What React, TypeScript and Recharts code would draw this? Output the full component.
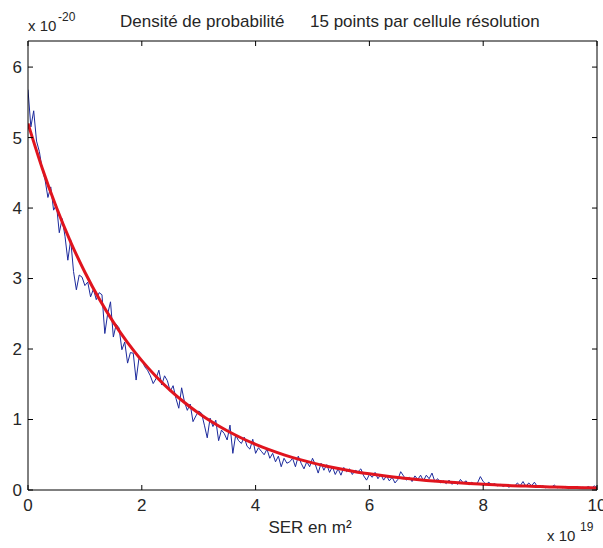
import { LineChart, Line, XAxis, YAxis } from "recharts";

// échantillonnage de la densité mesurée (pas de 0.05 en x10^19)
const step = 0.05;
const measured = [
  5.68, 5.15, 5.38, 4.95, 4.8, 4.55, 4.4, 4.15, 4.3, 3.97, 4.05, 3.65, 3.85, 3.6, 3.26, 3.55, 3.1, 2.84, 3.05, 3.02,
  2.9, 2.95, 2.74, 2.85, 2.7, 2.8, 2.77, 2.22, 2.5, 2.67, 2.17, 2.35, 2.3, 1.99, 2.1, 1.8, 1.95, 1.94, 1.56, 1.87,
  1.85, 1.75, 1.7, 1.62, 1.51, 1.58, 1.7, 1.49, 1.62, 1.55, 1.4, 1.48, 1.3, 1.16, 1.45, 1.25, 1.13, 1.22, 0.97, 1.05,
  1.12, 1.09, 0.92, 0.74, 1.02, 0.9, 0.99, 0.7, 0.85, 0.8, 0.71, 0.92, 0.52, 0.78, 0.7, 0.66, 0.75, 0.62, 0.58, 0.72,
  0.52, 0.6, 0.55, 0.5, 0.58, 0.45, 0.52, 0.4, 0.48, 0.33, 0.45, 0.38, 0.4, 0.45, 0.33, 0.48, 0.38, 0.3, 0.4, 0.33,
  0.45, 0.36, 0.24, 0.38, 0.28, 0.36, 0.25, 0.33, 0.22, 0.3, 0.21, 0.32, 0.26, 0.3, 0.22, 0.28, 0.26, 0.3, 0.2, 0.14,
  0.22, 0.18, 0.25, 0.16, 0.22, 0.14, 0.2, 0.13, 0.18, 0.1, 0.15, 0.26, 0.2, 0.14, 0.18, 0.12, 0.2, 0.15, 0.21, 0.13,
  0.21, 0.16, 0.24, 0.12, 0.16, 0.1, 0.13, 0.09, 0.14, 0.08, 0.12, 0.08, 0.15, 0.1, 0.13, 0.07, 0.11, 0.08, 0.1, 0.19,
  0.12, 0.08, 0.11, 0.07, 0.09, 0.06, 0.08, 0.05, 0.07, 0.04, 0.06, 0.05, 0.1, 0.06, 0.12, 0.05, 0.1, 0.06, 0.11, 0.05,
  0.04, 0.06, 0.03, 0.05, 0.04, 0.07, 0.03, 0.05, 0.03, 0.05, 0.02, 0.04, 0.03, 0.05, 0.02, 0.04, 0.03, 0.05, 0.02, 0.06,
  0.03,
];

// loi exponentielle ajustée
const fitX = [
  0, 0.25, 0.5, 0.75, 1, 1.25, 1.5, 1.75, 2, 2.25, 2.5, 2.75, 3, 3.25, 3.5, 3.75, 4, 4.25, 4.5, 4.75, 5,
  5.25, 5.5, 5.75, 6, 6.25, 6.5, 6.75, 7, 7.25, 7.5, 7.75, 8, 8.25, 8.5, 8.75, 9, 9.25, 9.5, 9.75, 10,
];
const fitY = [
  5.2, 4.565, 4.008, 3.518, 3.089, 2.712, 2.381, 2.09, 1.835, 1.611, 1.414, 1.242, 1.09, 0.957, 0.84, 0.738,
  0.648, 0.569, 0.499, 0.438, 0.385, 0.338, 0.297, 0.26, 0.229, 0.201, 0.176, 0.155, 0.136, 0.119, 0.105,
  0.092, 0.081, 0.071, 0.062, 0.055, 0.048, 0.042, 0.037, 0.033, 0.029,
];

const xTicks = [0, 2, 4, 6, 8, 10];
const yTicks = [0, 1, 2, 3, 4, 5, 6];

const measuredData = measured.map((v, i) => ({ x: +(i * step).toFixed(2), y: v }));
const fitData = fitX.map((x, i) => ({ x, y: fitY[i] }));

const FONT = "'Liberation Sans', Arial, sans-serif";
const TXT = "#262626";

const BottomTick = ({ x, y, payload }: any) => (
  <g>
    <line x1={x} x2={x} y1={y} y2={y - 5} stroke="#000" />
    <text x={x} y={y + 21} textAnchor="middle" fontSize={17} fontFamily={FONT} fill={TXT}>
      {payload.value}
    </text>
  </g>
);

const TopTick = ({ x, y }: any) => <line x1={x} x2={x} y1={y} y2={y + 5} stroke="#000" />;

const LeftTick = ({ x, y, payload }: any) => (
  <g>
    <line x1={x} x2={x + 5} y1={y} y2={y} stroke="#000" />
    <text x={x - 6} y={y} dy="0.35em" textAnchor="end" fontSize={17} fontFamily={FONT} fill={TXT}>
      {payload.value}
    </text>
  </g>
);

const RightTick = ({ x, y }: any) => <line x1={x} x2={x - 5} y1={y} y2={y} stroke="#000" />;

export default function App() {
  return (
    <div style={{ position: "absolute", left: 0, top: 0, width: 603, height: 548, background: "#fff" }}>
      <LineChart width={603} height={548} margin={{ top: 40, right: 5, left: 0, bottom: 0 }}>
        <XAxis
          xAxisId="bottom"
          type="number"
          dataKey="x"
          domain={[0, 10]}
          ticks={xTicks}
          interval={0}
          height={58}
          tickSize={0}
          tickMargin={0}
          tickLine={false}
          axisLine={{ stroke: "#000" }}
          tick={BottomTick}
          allowDataOverflow
        />
        <XAxis
          xAxisId="top"
          orientation="top"
          type="number"
          dataKey="x"
          domain={[0, 10]}
          ticks={xTicks}
          interval={0}
          height={1}
          tickSize={0}
          tickMargin={0}
          tickLine={false}
          axisLine={{ stroke: "#000" }}
          tick={TopTick}
          allowDataOverflow
        />
        <YAxis
          yAxisId="left"
          type="number"
          domain={[0, 6.37]}
          ticks={yTicks}
          interval={0}
          width={28}
          tickSize={0}
          tickMargin={0}
          tickLine={false}
          axisLine={{ stroke: "#000" }}
          tick={LeftTick}
          allowDataOverflow
        />
        <YAxis
          yAxisId="right"
          orientation="right"
          type="number"
          domain={[0, 6.37]}
          ticks={yTicks}
          interval={0}
          width={1}
          tickSize={0}
          tickMargin={0}
          tickLine={false}
          axisLine={{ stroke: "#000" }}
          tick={RightTick}
          allowDataOverflow
        />
        <Line
          xAxisId="bottom"
          yAxisId="left"
          data={measuredData}
          dataKey="y"
          type="linear"
          stroke="#1c2a9c"
          strokeWidth={1}
          dot={false}
          isAnimationActive={false}
        />
        <Line
          xAxisId="bottom"
          yAxisId="left"
          data={fitData}
          dataKey="y"
          type="monotone"
          stroke="#e0141e"
          strokeWidth={3}
          dot={false}
          isAnimationActive={false}
        />
      </LineChart>
      <svg
        width={603}
        height={548}
        style={{ position: "absolute", left: 0, top: 0, pointerEvents: "none" }}
        fontFamily={FONT}
        fill={TXT}
      >
        <text x={28} y={31} fontSize={15}>x 10</text>
        <text x={58} y={21} fontSize={12}>-20</text>
        <text x={120} y={27} fontSize={17}>Densité de probabilité</text>
        <text x={310} y={27} fontSize={17}>15 points par cellule résolution</text>
        <text x={310} y={533} fontSize={17} textAnchor="middle">SER en m²</text>
        <text x={547} y={541} fontSize={15}>x 10</text>
        <text x={580} y={531} fontSize={12}>19</text>
      </svg>
    </div>
  );
}
